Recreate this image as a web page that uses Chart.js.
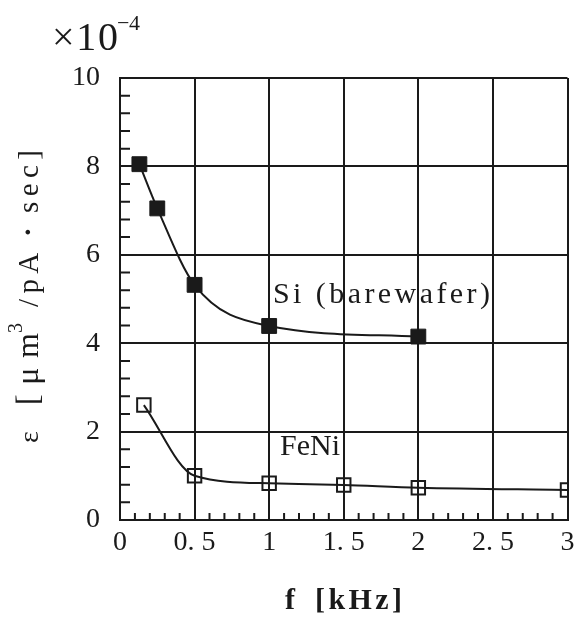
<!DOCTYPE html>
<html>
<head>
<meta charset="utf-8">
<script src="https://cdn.jsdelivr.net/npm/chart.js@4.4.1/dist/chart.umd.min.js"></script>
<style>
  html, body { margin: 0; padding: 0; background: #fff; }
  canvas { display: block; }
</style>
</head>
<body>
<canvas id="chart" width="579" height="621"></canvas>
<script>
// values (eps in units of 1e-4)
const siFreq = [0.13, 0.25, 0.5, 1.0, 2.0];
const siEps = [8.05, 7.05, 5.32, 4.39, 4.15];
const feniFreq = [0.16, 0.5, 1.0, 1.5, 2.0, 3.0];
const feniEps = [2.6, 1.0, 0.83, 0.79, 0.73, 0.68];
const xTickLabels = ['0', '0. 5', '1', '1. 5', '2', '2. 5', '3'];
const yTickLabels = ['0', '2', '4', '6', '8', '10'];

const INK = '#1a1a1a';
const SERIF = '"Liberation Serif", "DejaVu Serif", serif';

function toPoints(xs, ys) {
    return xs.map((x, i) => ({ x: x, y: ys[i] }));
}

// draw text one char at a time so it fills x0..x1 (typewriter-like spacing)
function spread(ctx, text, x0, x1, y) {
    const chars = Array.from(text);
    const widths = chars.map(c => ctx.measureText(c).width);
    const total = widths.reduce((a, b) => a + b, 0);
    const gap = chars.length > 1 ? (x1 - x0 - total) / (chars.length - 1) : 0;
    let x = x0;
    ctx.textAlign = 'left';
    chars.forEach((c, i) => {
        ctx.fillText(c, x, y);
        x += widths[i] + gap;
    });
}

const extras = {
    id: 'extras',
    afterDraw(chart) {
        const ctx = chart.ctx;
        const xs = chart.scales.x, ys = chart.scales.y;
        const area = chart.chartArea;
        ctx.save();

        // minor ticks, inside the frame on left and bottom
        ctx.strokeStyle = INK;
        ctx.lineWidth = 2;
        ctx.beginPath();
        for (let i = 1; i < 25; i++) {
            if (i % 5 === 0) continue;
            const py = ys.getPixelForValue(i * 0.4);
            ctx.moveTo(area.left, py);
            ctx.lineTo(area.left + 10, py);
        }
        for (let i = 1; i < 30; i++) {
            if (i % 5 === 0) continue;
            const px = xs.getPixelForValue(i * 0.1);
            ctx.moveTo(px, area.bottom);
            ctx.lineTo(px, area.bottom - 7);
        }
        ctx.stroke();

        ctx.fillStyle = INK;
        ctx.textBaseline = 'alphabetic';

        ctx.font = '30px ' + SERIF;
        spread(ctx, 'Si (barewafer)', 273, 490, 303);
        spread(ctx, 'FeNi', 280, 340, 455);

        ctx.font = '40px ' + SERIF;
        spread(ctx, '×10', 52, 118, 50);
        ctx.font = '22px ' + SERIF;
        spread(ctx, '−4', 117, 140, 30);

        ctx.font = 'bold 30px ' + SERIF;
        spread(ctx, 'f', 285, 298, 609);
        spread(ctx, '[kHz]', 315, 402, 609);

        // y title, reading bottom to top
        ctx.translate(38, 0);
        ctx.rotate(-Math.PI / 2);
        ctx.font = '28px ' + SERIF;
        spread(ctx, 'ε', -443, -430, 0);
        ctx.font = '32px ' + SERIF;
        spread(ctx, '[μm', -405, -333, 0);
        ctx.font = '20px ' + SERIF;
        spread(ctx, '3', -333, -318, -16);
        ctx.font = '29px ' + SERIF;
        spread(ctx, '/pA・sec]', -307, -150, 0);

        ctx.restore();
    }
};

const tickFont = { family: SERIF, size: 28 };

new Chart(document.getElementById('chart'), {
    type: 'line',
    data: {
        datasets: [{
            label: 'Si (barewafer)',
            data: toPoints(siFreq, siEps),
            borderColor: INK,
            borderWidth: 2,
            cubicInterpolationMode: 'monotone',
            pointStyle: 'rect',
            pointRadius: 10.5,
            pointBackgroundColor: INK,
            pointBorderColor: INK,
            pointBorderWidth: 1
        }, {
            label: 'FeNi',
            data: toPoints(feniFreq, feniEps),
            borderColor: INK,
            borderWidth: 2,
            cubicInterpolationMode: 'monotone',
            pointStyle: 'rect',
            pointRadius: 9.5,
            pointBackgroundColor: 'rgba(0,0,0,0)',
            pointBorderColor: INK,
            pointBorderWidth: 2
        }]
    },
    options: {
        responsive: false,
        animation: false,
        layout: { padding: { top: 78, right: 4, bottom: 0, left: 0 } },
        plugins: {
            legend: { display: false },
            tooltip: { enabled: false }
        },
        scales: {
            x: {
                type: 'linear',
                min: 0,
                max: 3,
                ticks: {
                    stepSize: 0.5,
                    autoSkip: false,
                    maxRotation: 0,
                    padding: 6,
                    color: INK,
                    font: tickFont,
                    callback: (v, i) => xTickLabels[i]
                },
                grid: { color: INK, lineWidth: 2, drawTicks: false },
                border: { color: INK, width: 2 },
                afterFit: s => { s.height = 101; s.paddingRight = 0; }
            },
            y: {
                min: 0,
                max: 10,
                ticks: {
                    stepSize: 2,
                    padding: 20,
                    color: INK,
                    font: tickFont,
                    callback: (v, i) => yTickLabels[i]
                },
                grid: { color: INK, lineWidth: 2, drawTicks: false },
                border: { color: INK, width: 2 },
                afterFit: s => { s.width = 120; }
            }
        }
    },
    plugins: [extras]
});
</script>
</body>
</html>
